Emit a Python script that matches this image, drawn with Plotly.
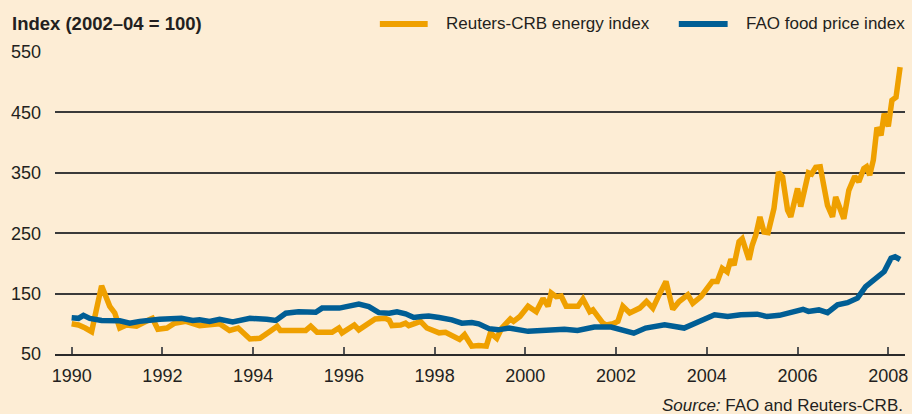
import plotly.graph_objects as go

# ---- data (decimal years, index 2002-04 = 100) ----
energy_year = [1990.00, 1990.15, 1990.30, 1990.44, 1990.66, 1990.84, 1990.95, 1991.06, 1991.21, 1991.43,
               1991.72, 1991.78, 1991.90, 1992.10, 1992.27, 1992.52, 1992.82, 1993.04, 1993.26, 1993.48,
               1993.67, 1993.93, 1994.15, 1994.36, 1994.53, 1994.60, 1994.86, 1995.16, 1995.27, 1995.41,
               1995.74, 1995.89, 1995.96, 1996.10, 1996.23, 1996.33, 1996.47, 1996.60, 1996.69, 1996.91,
               1997.00, 1997.06, 1997.25, 1997.36, 1997.43, 1997.54, 1997.69, 1997.83, 1998.10, 1998.24,
               1998.46, 1998.55, 1998.66, 1998.82, 1998.97, 1999.08, 1999.14, 1999.23, 1999.37, 1999.48,
               1999.67, 1999.74, 1999.88, 2000.06, 2000.24, 2000.39, 2000.50, 2000.57, 2000.68, 2000.79,
               2000.90, 2001.16, 2001.27, 2001.42, 2001.49, 2001.60, 2001.71, 2001.78, 2001.93, 2002.04,
               2002.15, 2002.30, 2002.41, 2002.52, 2002.67, 2002.81, 2002.93, 2003.10, 2003.25, 2003.39,
               2003.58, 2003.69, 2003.87, 2004.01, 2004.12, 2004.23, 2004.34, 2004.45, 2004.53, 2004.60,
               2004.71, 2004.78, 2004.93, 2005.00, 2005.08, 2005.17, 2005.26, 2005.35, 2005.48, 2005.58,
               2005.67, 2005.78, 2005.85, 2006.00, 2006.07, 2006.24, 2006.31, 2006.40, 2006.50, 2006.66,
               2006.77, 2006.84, 2007.02, 2007.13, 2007.26, 2007.35, 2007.46, 2007.52, 2007.59, 2007.67,
               2007.75, 2007.84, 2007.91, 2008.00, 2008.08, 2008.17, 2008.26]
energy_val = [100, 98, 93, 87, 163, 129, 118, 93, 98, 96,
              107, 109, 91, 93, 101, 104, 97, 98, 100, 89,
              93, 75, 76, 87, 96, 89, 90, 89, 96, 86,
              86, 93, 85, 93, 98, 90, 96, 104, 108, 109,
              106, 97, 98, 101, 97, 100, 104, 93, 85, 86,
              78, 74, 82, 63, 64, 63, 63, 85, 76, 93,
              108, 104, 112, 129, 120, 142, 129, 151, 145, 146,
              129, 129, 141, 120, 123, 112, 101, 98, 100, 104,
              129, 118, 123, 126, 137, 126, 145, 170, 124, 137,
              148, 134, 145, 159, 170, 170, 192, 186, 207, 197,
              236, 241, 206, 230, 247, 277, 252, 251, 291, 351,
              343, 288, 277, 324, 294, 350, 348, 359, 360, 296,
              277, 310, 274, 321, 344, 335, 357, 360, 346, 371,
              425, 412, 448, 427, 470, 475, 525]

food_year = [1990.00, 1990.15, 1990.26, 1990.40, 1990.66, 1991.06, 1991.28, 1991.50, 1991.94, 1992.16,
             1992.42, 1992.67, 1992.82, 1993.04, 1993.26, 1993.55, 1993.93, 1994.30, 1994.50, 1994.72,
             1995.00, 1995.38, 1995.52, 1995.90, 1996.10, 1996.33, 1996.55, 1996.77, 1997.00, 1997.17,
             1997.36, 1997.54, 1997.72, 1997.87, 1998.10, 1998.38, 1998.60, 1998.82, 1998.97, 1999.20,
             1999.40, 1999.64, 2000.06, 2000.43, 2000.86, 2001.15, 2001.52, 2001.89, 2002.16, 2002.39,
             2002.65, 2003.07, 2003.50, 2003.87, 2004.17, 2004.46, 2004.75, 2005.11, 2005.33, 2005.60,
             2006.00, 2006.12, 2006.24, 2006.47, 2006.66, 2006.88, 2007.10, 2007.32, 2007.50, 2007.69,
             2007.91, 2008.06, 2008.15, 2008.26]
food_val = [110, 109, 114, 109, 105.5, 105, 101, 104, 107.5, 109,
            109, 105.5, 106.5, 104, 107.5, 103, 109, 107.5, 105.5, 117.5,
            120, 119, 126, 126, 128.5, 132.5, 128.5, 118.5, 117.5, 120,
            116.5, 110.5, 112, 113, 110.5, 106.5, 101, 102, 100, 92,
            90, 93, 87.5, 88.5, 91, 89, 94.5, 94.5, 90, 84.5,
            93, 98.5, 93, 106.5, 115, 112, 115, 116, 112, 114,
            120.5, 124, 120.5, 123, 118.5, 131.5, 135, 142.5, 161.5, 172.5,
            186.5, 208.5, 211, 206.5]

energy_name = "Reuters-CRB energy index"
food_name = "FAO food price index"
y_ticks = [50, 150, 250, 350, 450, 550]
x_ticks = [1990, 1992, 1994, 1996, 1998, 2000, 2002, 2004, 2006, 2008]
x_tick_labels = [str(v) for v in x_ticks]

ORANGE = "#EFA000"
BLUE = "#005E95"
BG = "#FDEDD5"
TXT = "#231F20"
FONT = "Liberation Sans, Arial, sans-serif"

fig = go.Figure()
fig.add_trace(go.Scatter(x=energy_year, y=energy_val, mode="lines", name=energy_name,
                         line=dict(color=ORANGE, width=5.5), showlegend=False))
fig.add_trace(go.Scatter(x=food_year, y=food_val, mode="lines", name=food_name,
                         line=dict(color=BLUE, width=5.5), showlegend=False))

W, H = 912, 414
L, R, T, B = 55, 4, 52, 60
pw, ph = W - L - R, H - T - B

def px(x):
    return (x - L) / pw

def py(y):
    return (H - B - y) / ph

fig.update_layout(
    width=W, height=H,
    margin=dict(l=L, r=R, t=T, b=B),
    paper_bgcolor=BG, plot_bgcolor=BG,
    font=dict(family=FONT, color=TXT, size=18),
    xaxis=dict(range=[1989.633, 2008.368], tickvals=x_ticks, ticktext=x_tick_labels,
               showgrid=False, zeroline=False, showline=True, linecolor="#2a2a2a", linewidth=1.5,
               ticks="inside", ticklen=7, tickwidth=1.5, tickcolor="#555555",
               tickfont=dict(size=18, color=TXT), ticklabelstandoff=5),
    yaxis=dict(range=[50, 550], tickvals=y_ticks, showgrid=True, gridcolor="#3a3a3a", gridwidth=1.5,
               zeroline=False, showline=False, ticks="",
               tickfont=dict(size=18, color=TXT), ticklabelstandoff=13),
    showlegend=False,
)

# title / unit label
fig.add_annotation(text="<b>Index (2002–04 = 100)</b>", xref="paper", yref="paper",
                   x=px(10), y=py(24), xanchor="left", yanchor="middle", showarrow=False,
                   font=dict(size=18.5, color=TXT, family=FONT))

# manual legend
for x0, x1, tx, col, name in [(381, 429, 445, ORANGE, energy_name), (681, 730, 746, BLUE, food_name)]:
    fig.add_shape(type="line", xref="paper", yref="paper", x0=px(x0), x1=px(x1), y0=py(24), y1=py(24),
                  line=dict(color=col, width=6))
    fig.add_annotation(text=name, xref="paper", yref="paper", x=px(tx), y=py(24),
                       xanchor="left", yanchor="middle", showarrow=False,
                       font=dict(size=17, color=TXT, family=FONT))

# source
fig.add_annotation(text="<i>Source:</i> FAO and Reuters-CRB.", xref="paper", yref="paper",
                   x=px(908), y=py(405), xanchor="right", yanchor="middle", showarrow=False,
                   font=dict(size=17, color=TXT, family=FONT))

fig.write_html("out.html", config={"displayModeBar": False},
               post_script="document.body.style.margin='0';document.body.style.background='%s';" % BG)
